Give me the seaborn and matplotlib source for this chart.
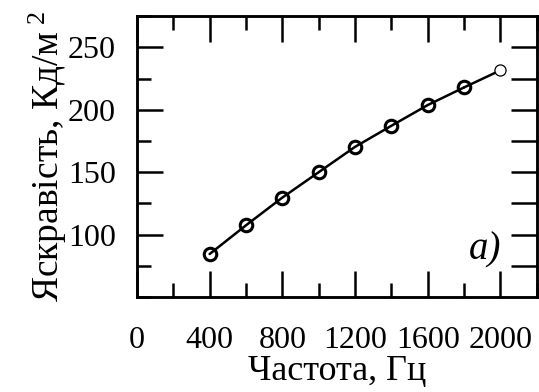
import numpy as np
import pandas as pd
import matplotlib
matplotlib.use("Agg")
import matplotlib.pyplot as plt
import seaborn as sns
from matplotlib.ticker import MultipleLocator

# data
frequency = [400, 600, 800, 1000, 1200, 1400, 1600, 1800, 2000]
brightness = [84.5, 107.5, 129.7, 150.0, 170.3, 187.2, 203.8, 217.9, 231.6]

df = pd.DataFrame({"f": frequency, "L": brightness})

sns.set_style("ticks", {"axes.edgecolor": "black", "text.color": "black",
                        "xtick.color": "black", "ytick.color": "black",
                        "axes.labelcolor": "black"})
plt.rcParams['font.family'] = ['Liberation Serif', 'DejaVu Serif']
plt.rcParams['mathtext.fontset'] = 'custom'
plt.rcParams['mathtext.rm'] = 'Liberation Serif'
plt.rcParams['mathtext.it'] = 'Liberation Serif:italic'

fig = plt.figure(figsize=(5.39, 3.92), dpi=100)
ax = fig.add_axes([0.254, 0.242, 0.742, 0.717])

sns.lineplot(data=df.iloc[:-1], x="f", y="L", ax=ax, color="black", lw=1.8,
             marker="o", markersize=9, markerfacecolor="none",
             markeredgecolor="black", markeredgewidth=2.2)
# last segment + thin open circle at the end
ax.plot(frequency[-2:], brightness[-2:], color="black", lw=1.8)
ax.plot(frequency[-1:], brightness[-1:], "o", ms=8, mfc="white", mec="black", mew=0.9)

ax.set_xlim(0, 2200)
ax.set_ylim(50, 275)
ax.xaxis.set_minor_locator(MultipleLocator(200))
ax.yaxis.set_minor_locator(MultipleLocator(25))
ax.set_xticks([0, 400, 800, 1200, 1600, 2000])
ax.set_yticks([100, 150, 200, 250])

ax.tick_params(which="both", direction="in", top=True, right=False, width=1.8,
               labelsize=23)
ax.tick_params(which="major", length=19)
ax.tick_params(which="minor", length=10)
ax.tick_params(axis="x", which="both", pad=21)
ax.tick_params(axis="y", which="both", pad=15)
for s in ax.spines.values():
    s.set_linewidth(1.8)

# right side: all ticks same length
ax2 = ax.twinx()
ax2.set_ylim(ax.get_ylim())
ax2.set_yticks(np.arange(75, 275, 25))
ax2.tick_params(axis="y", direction="in", length=19, width=1.8, labelright=False)
for s in ax2.spines.values():
    s.set_linewidth(1.8)

ax.set_xlabel("Частота, Гц", fontsize=26, labelpad=0)
ax.set_ylabel("Яскравість, Кд/м$^{\\ 2}$", fontsize=27, labelpad=-1)
ax.text(1918, 88, "a)", fontsize=28, style="italic", ha="center", va="center")

fig.savefig("out.png", dpi=100)
